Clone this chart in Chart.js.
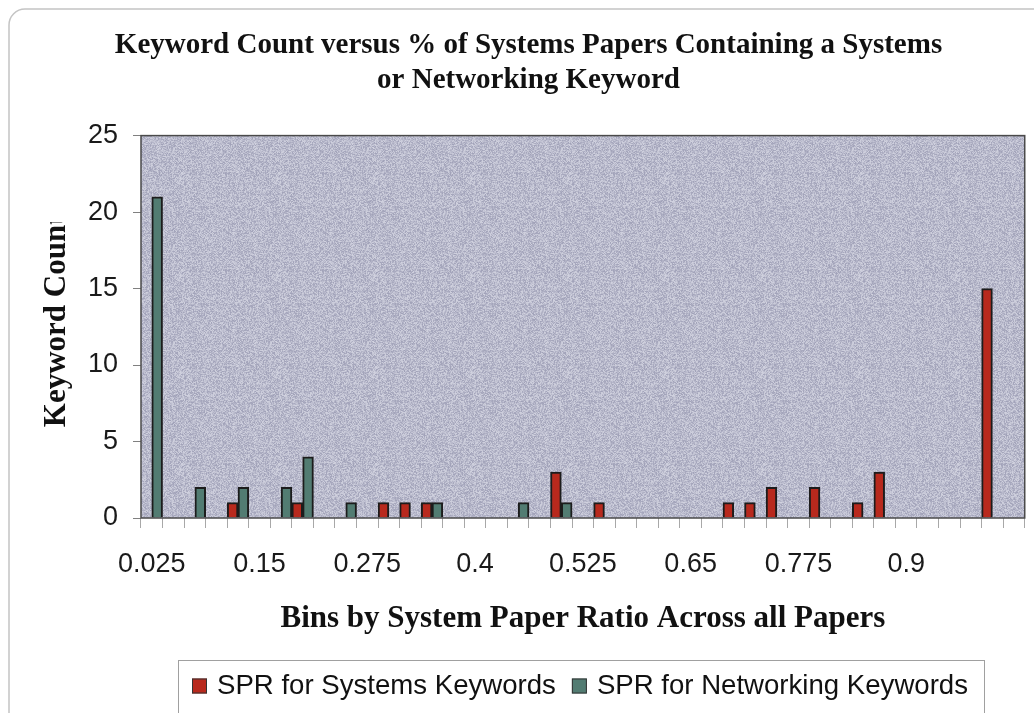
<!DOCTYPE html>
<html>
<head>
<meta charset="utf-8">
<script src="https://cdn.jsdelivr.net/npm/chart.js@4.4.1/dist/chart.umd.min.js"></script>
<style>
  html, body { margin: 0; padding: 0; background: #fff; }
  #wrap { width: 1034px; height: 713px; position: relative; }
</style>
</head>
<body>
<div id="wrap"><canvas id="chart"></canvas></div>
<script>
// histogram bins, step 0.025, plus Excel's overflow bin
const bins = ['0.025','0.05','0.075','0.1','0.125','0.15','0.175','0.2','0.225','0.25',
  '0.275','0.3','0.325','0.35','0.375','0.4','0.425','0.45','0.475','0.5',
  '0.525','0.55','0.575','0.6','0.625','0.65','0.675','0.7','0.725','0.75',
  '0.775','0.8','0.825','0.85','0.875','0.9','0.925','0.95','0.975','1','More'];

// keyword counts per bin
const systemsCounts = [0,0,0,0,1, 0,0,1,0,0, 0,1,1,1,0, 0,0,0,0,3,
  0,1,0,0,0, 0,0,1,1,2, 0,2,0,1,3, 0,0,0,0,15, 0];
const networkingCounts = [21,0,2,0,2, 0,2,4,0,1, 0,0,0,1,0, 0,0,1,0,1,
  0,0,0,0,0, 0,0,0,0,0, 0,0,0,0,0, 0,0,0,0,0, 0];

const seriesNames = ['SPR for Systems Keywords', 'SPR for Networking Keywords'];
const seriesColors = ['#b8291d', '#527c72'];

const titleLines = ['Keyword Count versus % of Systems Papers Containing a Systems', 'or Networking Keyword'];
const xTitle = 'Bins by System Paper Ratio Across all Papers';
const yTitle = 'Keyword Count';
const yMax = 25;
const yStep = 5;
const labelEvery = 5;

const SERIF = '"Liberation Serif", "Times New Roman", serif';
const SANS = '"Liberation Sans", Arial, sans-serif';

// grainy lavender fill for the plot area (hash noise, no randomness)
function grainPattern(ctx) {
  const size = 97;
  const c = document.createElement('canvas');
  c.width = c.height = size;
  const g = c.getContext('2d');
  const img = g.createImageData(size, size);
  for (let i = 0; i < size * size; i++) {
    const x = i % size, y = (i / size) | 0;
    const h = Math.sin(x * 12.9898 + y * 78.233) * 43758.5453;
    const n = h - Math.floor(h);
    const d = (n - 0.4) * 48;
    img.data[i * 4] = 180 + d;
    img.data[i * 4 + 1] = 181 + d;
    img.data[i * 4 + 2] = 200 + d * 0.8;
    img.data[i * 4 + 3] = 255;
  }
  g.putImageData(img, 0, 0);
  return ctx.createPattern(c, 'repeat');
}

// white page + rounded outline of the chart object
const frame = {
  id: 'frame',
  beforeDraw(chart) {
    const ctx = chart.ctx;
    ctx.save();
    ctx.fillStyle = '#fff';
    ctx.fillRect(0, 0, chart.width, chart.height);
    ctx.strokeStyle = '#c4c4c4';
    ctx.lineWidth = 1.5;
    ctx.beginPath();
    ctx.roundRect(9, 9, chart.width + 20, chart.height + 20, 16);
    ctx.stroke();
    ctx.restore();
  }
};

let grain = null;
const plotArea = {
  id: 'plotArea',
  beforeDatasetsDraw(chart) {
    const {ctx, chartArea: a} = chart;
    if (!grain) grain = grainPattern(ctx);
    ctx.save();
    ctx.fillStyle = grain;
    ctx.fillRect(a.left, a.top, a.right - a.left, a.bottom - a.top);
    ctx.restore();
  },
  afterDatasetsDraw(chart) {
    const {ctx, chartArea: a} = chart;
    ctx.save();
    ctx.strokeStyle = '#4a4a4a';
    ctx.lineWidth = 1.5;
    ctx.strokeRect(a.left, a.top, a.right - a.left, a.bottom - a.top);
    ctx.restore();
  }
};

// rotated y title; the box it sits in cuts off the last letter
const yTitlePlugin = {
  id: 'yTitlePlugin',
  afterDraw(chart) {
    const {ctx, chartArea: a} = chart;
    ctx.save();
    ctx.beginPath();
    ctx.rect(0, 222, 140, 300);
    ctx.clip();
    ctx.translate(57, (a.top + a.bottom) / 2 - 6);
    ctx.rotate(-Math.PI / 2);
    ctx.font = 'bold 31px ' + SERIF;
    ctx.fillStyle = '#111';
    ctx.textAlign = 'center';
    ctx.textBaseline = 'middle';
    ctx.fillText(yTitle, 0, 0);
    ctx.restore();
  }
};

// boxed legend under the x title
const legendBox = {
  id: 'legendBox',
  afterDraw(chart) {
    const ctx = chart.ctx;
    const top = 660, midY = 686, sq = 15;
    let x = 192;
    const left = x - 14;
    ctx.save();
    ctx.font = '27.6px ' + SANS;
    ctx.textBaseline = 'middle';
    chart.data.datasets.forEach((ds) => {
      ctx.fillStyle = ds.backgroundColor;
      ctx.fillRect(x, midY - sq / 2, sq, sq);
      ctx.strokeStyle = '#333';
      ctx.lineWidth = 1;
      ctx.strokeRect(x + 0.5, midY - sq / 2 + 0.5, sq - 1, sq - 1);
      x += sq + 10;
      ctx.fillStyle = '#111';
      ctx.fillText(ds.label, x, midY);
      x += ctx.measureText(ds.label).width + 16;
    });
    const right = x - 16 + 16;
    ctx.strokeStyle = '#a0a0a0';
    ctx.lineWidth = 1;
    ctx.strokeRect(left + 0.5, top + 0.5, right - left, 80);
    ctx.restore();
  }
};

const ctx = document.getElementById('chart').getContext('2d');
new Chart(ctx, {
  type: 'bar',
  data: {
    labels: bins,
    datasets: [
      {
        label: seriesNames[0],
        data: systemsCounts,
        backgroundColor: seriesColors[0],
        borderColor: '#1c1c1c',
        borderWidth: 2
      },
      {
        label: seriesNames[1],
        data: networkingCounts,
        backgroundColor: seriesColors[1],
        borderColor: '#1c1c1c',
        borderWidth: 2
      }
    ]
  },
  options: {
    responsive: true,
    maintainAspectRatio: false,
    animation: false,
    events: [],
    datasets: {
      bar: { categoryPercentage: 1, barPercentage: 1 }
    },
    layout: { padding: { left: 26, right: 3, top: 0, bottom: 73 } },
    plugins: {
      legend: { display: false },
      tooltip: { enabled: false },
      title: {
        display: true,
        text: titleLines,
        color: '#111',
        font: { family: SERIF, size: 29, weight: 'bold', lineHeight: 1.2 },
        padding: { top: 28, bottom: 38 }
      }
    },
    scales: {
      x: {
        grid: { offset: true, drawOnChartArea: false, tickLength: 10, color: '#a8a8a8' },
        border: { display: false },
        ticks: {
          autoSkip: false,
          maxRotation: 0,
          minRotation: 0,
          padding: 20,
          color: '#1a1a1a',
          font: { family: SANS, size: 27 },
          callback: (v, i) => (i % labelEvery === 0 && bins[i] !== 'More') ? bins[i] : ''
        },
        title: {
          display: true,
          text: xTitle,
          color: '#111',
          font: { family: SERIF, size: 31, weight: 'bold', lineHeight: 1.2 },
          padding: { top: 0, bottom: 2 }
        },
        afterFit: (scale) => { scale.height = 122; }
      },
      y: {
        min: 0,
        max: yMax,
        grid: { drawOnChartArea: false, tickLength: 8, color: '#808080' },
        border: { display: false },
        ticks: {
          stepSize: yStep,
          padding: 15,
          color: '#1a1a1a',
          font: { family: SANS, size: 27 }
        },
        afterFit: (scale) => { scale.width = 115; }
      }
    }
  },
  plugins: [frame, plotArea, yTitlePlugin, legendBox]
});
</script>
</body>
</html>
